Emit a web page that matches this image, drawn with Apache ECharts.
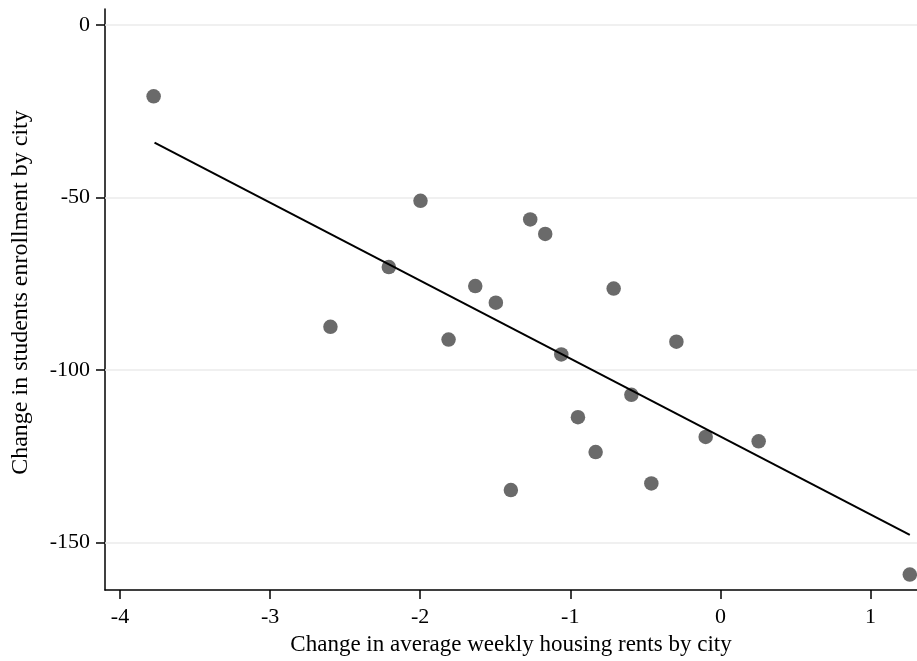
<!DOCTYPE html>
<html>
<head>
<meta charset="utf-8">
<script src="https://cdn.jsdelivr.net/npm/echarts@6/dist/echarts.min.js"></script>
<style>
html,body{margin:0;padding:0;background:#fff;}
#chart{width:917px;height:661px;}
</style>
</head>
<body>
<div id="chart"></div>
<script>
// Data
var rentChange = [-3.776, -2.598, -2.209, -1.998, -1.811, -1.633, -1.496, -1.396, -1.267, -1.167,
                  -1.06, -0.949, -0.831, -0.711, -0.593, -0.46, -0.293, -0.098, 0.255, 1.262];
var enrollChange = [-20.7, -87.5, -70.2, -51.0, -91.2, -75.7, -80.5, -134.8, -56.4, -60.6,
                    -95.5, -113.7, -123.8, -76.4, -107.2, -132.9, -91.8, -119.4, -120.7, -159.3];
var fitX = [-3.77, 1.262];
var fitY = [-34.1, -147.8];
var xTicks = [-4, -3, -2, -1, 0, 1];
var yTicks = [0, -50, -100, -150];
var xTitle = 'Change in average weekly housing rents by city';
var yTitle = 'Change in students enrollment by city';

var points = rentChange.map(function (x, i) { return [x, enrollChange[i]]; });
var fitLine = fitX.map(function (x, i) { return [x, fitY[i]]; });

var font = 'Liberation Serif';
var chart = echarts.init(document.getElementById('chart'), null, {renderer: 'canvas'});
chart.setOption({
  animation: false,
  backgroundColor: '#ffffff',
  grid: {left: 105, right: 0, top: 9, bottom: 68, containLabel: false},
  xAxis: {
    type: 'value', min: -4.1, max: 1.31,
    name: xTitle, nameLocation: 'middle', nameGap: 38,
    nameTextStyle: {fontFamily: font, fontSize: 23, color: '#000'},
    axisLine: {show: true, onZero: false, lineStyle: {color: '#000', width: 1.5}},
    axisTick: {show: true, inside: false, length: 9, customValues: xTicks, lineStyle: {color: '#000', width: 1.5}},
    axisLabel: {show: true, customValues: xTicks, margin: 16, fontFamily: font, fontSize: 22, color: '#000'},
    splitLine: {show: false}
  },
  yAxis: {
    type: 'value', min: -163.8, max: 4.6,
    name: yTitle, nameLocation: 'middle', nameGap: 72,
    nameTextStyle: {fontFamily: font, fontSize: 24, color: '#000', padding: [0, 0, 0, 14]},
    axisLine: {show: true, onZero: false, lineStyle: {color: '#000', width: 1.5}},
    axisTick: {show: true, inside: false, length: 9, customValues: yTicks, lineStyle: {color: '#000', width: 1.5}},
    axisLabel: {show: true, customValues: yTicks, margin: 15, fontFamily: font, fontSize: 22, color: '#000'},
    splitLine: {show: false}
  },
  series: [
    {
      type: 'line', data: [], z: 1, silent: true,
      markLine: {
        z: 1, silent: true, symbol: ['none', 'none'], label: {show: false},
        lineStyle: {color: '#ebebeb', width: 1.5, type: 'solid'},
        data: yTicks.map(function (v) { return {yAxis: v}; })
      }
    },
    {
      type: 'scatter', data: points, z: 3, symbol: 'circle', symbolSize: 14.5,
      itemStyle: {color: '#6a6a6a', opacity: 1}
    },
    {
      type: 'line', data: fitLine, z: 4, symbol: 'none',
      lineStyle: {color: '#000', width: 2}
    }
  ]
});
</script>
</body>
</html>
